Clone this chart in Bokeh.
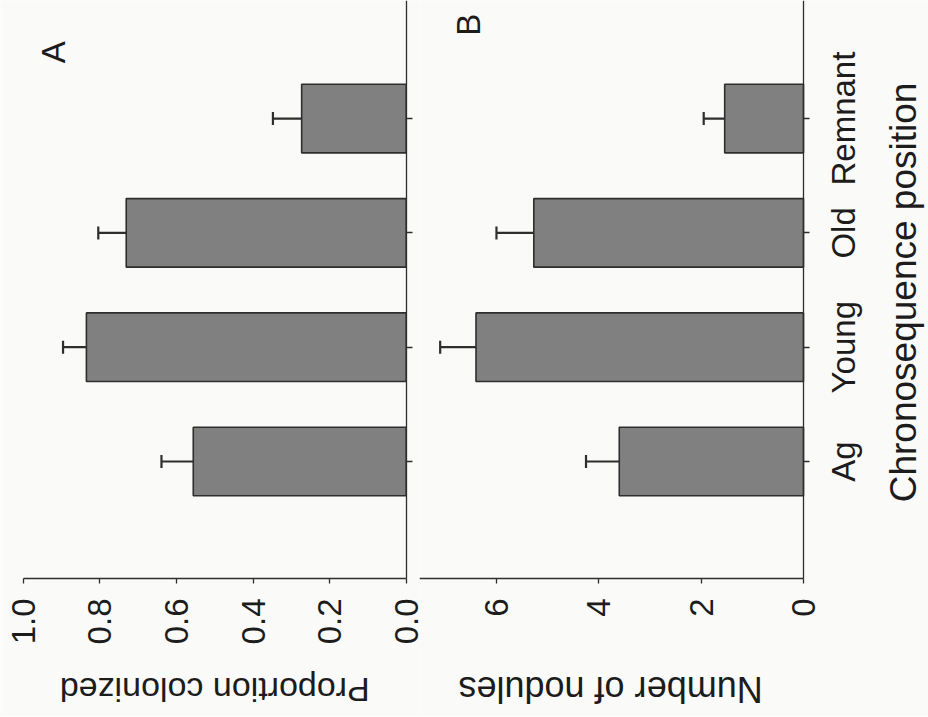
import math
from bokeh.plotting import figure
from bokeh.models import (Range1d, FixedTicker, Whisker, TeeHead, ColumnDataSource, Label)
from bokeh.core.properties import value
from bokeh.layouts import row
from bokeh.embed import file_html
from bokeh.resources import INLINE

# ---- data ----
categories = ["Ag", "Young", "Old", "Remnant"]
proportion = [0.556, 0.835, 0.731, 0.273]
proportion_se = [0.083, 0.061, 0.073, 0.075]
nodules = [3.60, 6.40, 5.27, 1.54]
nodules_se = [0.65, 0.70, 0.73, 0.41]
prop_ticks = [0.0, 0.2, 0.4, 0.6, 0.8, 1.0]
prop_tick_labels = ["0.0", "0.2", "0.4", "0.6", "0.8", "1.0"]
nod_ticks = [0, 2, 4, 6]
nod_tick_labels = ["0", "2", "4", "6"]

FONT = "Liberation Sans"
BAR = "#808080"
LINE = "#2e2e2e"
TXT = "#1c1c1c"
BG = "#fafaf9"

positions = list(range(1, len(categories) + 1))
H = 716
Y_LO, Y_HI = -1.231, 5.033      # whole canvas height in category units
AXIS_Y = -0.0236                # where the value axis runs
TITLE_Y = -0.995                # value-axis titles


def make_panel(values, errs, x_range, xmax, ticks, tick_labels, width,
               xtitle, xtitle_x, xtitle_size, letter, letter_x, letter_y):
    src = ColumnDataSource(dict(
        y=positions, v=values, upper=[v + e for v, e in zip(values, errs)]))
    p = figure(width=width, height=H,
               x_range=Range1d(*x_range), y_range=Range1d(Y_LO, Y_HI),
               output_backend="svg", toolbar_location=None,
               x_axis_location="below", y_axis_location="right",
               min_border_left=0, min_border_right=0,
               min_border_top=0, min_border_bottom=0)
    p.background_fill_color = BG
    p.border_fill_color = BG
    p.outline_line_color = None
    p.xgrid.grid_line_color = None
    p.ygrid.grid_line_color = None

    p.hbar(y="y", left=0, right="v", height=0.6, source=src,
           fill_color=BAR, line_color=LINE, line_width=1.6)
    w = Whisker(base="y", lower="v", upper="upper", dimension="width", source=src,
                line_color=LINE, line_width=2.2,
                upper_head=TeeHead(size=13, line_color=LINE, line_width=2.2),
                lower_head=None)
    p.add_layout(w)

    # value axis, fixed at the foot of the bars
    xa = p.xaxis[0]
    xa.fixed_location = AXIS_Y
    xa.bounds = (0, xmax)
    xa.ticker = FixedTicker(ticks=ticks)
    xa.major_label_overrides = {t: l for t, l in zip(ticks, tick_labels)}
    xa.major_label_orientation = math.pi / 2
    xa.major_tick_out = 5
    xa.major_tick_in = 0
    xa.minor_tick_line_color = None
    xa.axis_line_color = LINE
    xa.major_tick_line_color = LINE
    xa.axis_line_width = 1.3
    xa.major_tick_line_width = 1.3
    xa.major_label_standoff = 15
    xa.major_label_text_font = FONT
    xa.major_label_text_font_size = "33px"
    xa.major_label_text_color = TXT

    # category rule with ticks, fixed at value 0
    ya = p.yaxis[0]
    ya.fixed_location = 0
    ya.bounds = (AXIS_Y, Y_HI)
    ya.ticker = FixedTicker(ticks=positions)
    ya.major_tick_out = 6
    ya.major_tick_in = 0
    ya.minor_tick_line_color = None
    ya.axis_line_color = LINE
    ya.major_tick_line_color = LINE
    ya.axis_line_width = 1.3
    ya.major_tick_line_width = 1.3
    ya.major_label_text_color = None
    ya.major_label_text_font_size = "1px"
    ya.major_label_standoff = 0

    # value-axis title (upside down, as in the rotated original)
    p.add_layout(Label(x=xtitle_x, y=TITLE_Y, text=xtitle, angle=math.pi,
                       text_align="center", text_baseline="middle",
                       text_font=FONT, text_font_size=xtitle_size, text_color=TXT))
    # panel letter
    p.add_layout(Label(x=letter_x, y=letter_y, text=letter, angle=math.pi / 2,
                       text_align="center", text_baseline="middle",
                       text_font=FONT, text_font_size="33px", text_color=TXT))
    return p


pa = make_panel(proportion, proportion_se, (1.0593, -0.0347), 1.0,
                prop_ticks, prop_tick_labels, 419,
                "Proportion colonized", 0.5, "34px", "A", 0.92, 4.58)

pb = make_panel(nodules, nodules_se, (7.504, -2.443), 7.5,
                nod_ticks, nod_tick_labels, 509,
                "Number of nodules", 3.77, "36px", "B", 6.55, 4.82)

# category labels and category-axis title, to the right of panel B's rule
cat_src = ColumnDataSource(dict(x=[-0.791] * len(categories), y=positions, t=categories))
pb.text(x="x", y="y", text="t", source=cat_src, angle=math.pi / 2,
        text_align="center", text_baseline="middle",
        text_font=value(FONT), text_font_size="33px", text_color=TXT)
pb.add_layout(Label(x=-1.964, y=2.479, text="Chronosequence position", angle=math.pi / 2,
                    text_align="center", text_baseline="middle",
                    text_font=FONT, text_font_size="37px", text_color=TXT))

layout = row(pa, pb)
open("out.html", "w").write(file_html(layout, INLINE))
